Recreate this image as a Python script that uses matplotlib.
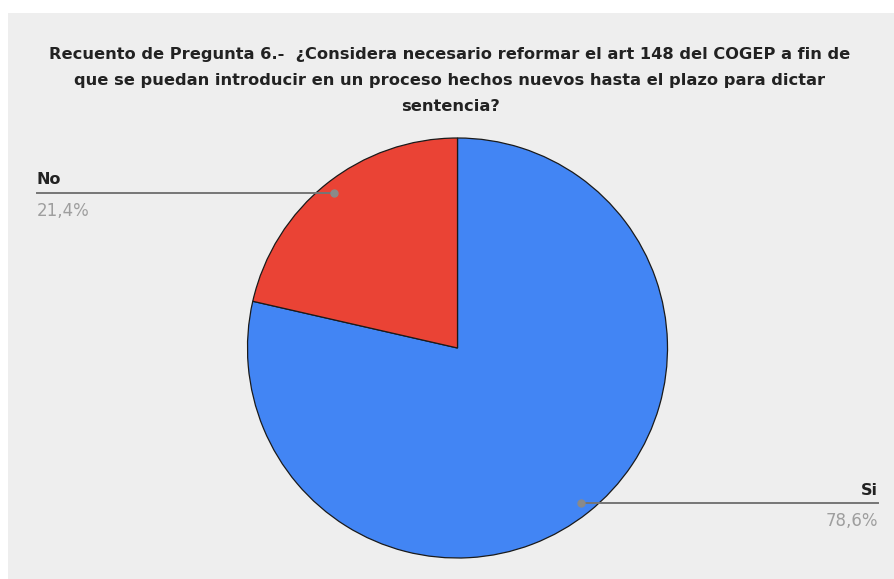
"""Pie chart of answers to question 6 (reform of art. 148 of the COGEP).
"""

import numpy as np
import matplotlib.pyplot as plt
from matplotlib.patches import Rectangle

title = ("Recuento de Pregunta 6.-  ¿Considera necesario reformar el art 148 del COGEP a fin de\n"
         "que se puedan introducir en un proceso hechos nuevos hasta el plazo para dictar\n"
         "sentencia?")
labels = ["Si", "No"]
counts = [11, 3]
colors = ["#4285f4", "#ea4335"]

W, H = 894, 579

fig = plt.figure(figsize=(W/100, H/100), dpi=100)
fig.patch.set_facecolor("white")
fig.patches.append(Rectangle((8/W, 0), 1 - 8/W, 1 - 13/H, transform=fig.transFigure,
                             facecolor="#eeeeee", edgecolor="none", zorder=-10))

fig.text(450/W, 1 - 47/H, title, ha="center", va="top", fontsize=11.7,
         fontweight="bold", color="#222222", linespacing=1.93,
         family="DejaVu Sans")

# pie centred at (457.5, 348) px, radius 210 px
cx, cy, r = 457.5, 348, 210
ax = fig.add_axes([(cx - r)/W, (H - cy - r)/H, 2*r/W, 2*r/H])
ax.pie(counts, colors=colors, startangle=90, counterclock=False, radius=1,
       wedgeprops=dict(edgecolor="#1a1a1a", linewidth=0.9))
ax.set_xlim(-1, 1)
ax.set_ylim(-1, 1)
ax.axis("off")

fracs = np.array(counts) / np.sum(counts)
ends = 90 - 360*np.cumsum(fracs)
mids = ends + 180*fracs

# label edges in figure pixels: Si right-aligned on the right, No left-aligned on the left
label_x = {"Si": 878, "No": 37}

to_data = ax.transData.inverted()
for lab, frac, mid in zip(labels, fracs, mids):
    a = np.deg2rad(mid)
    dx, dy = 0.945*np.cos(a), 0.945*np.sin(a)
    lx = to_data.transform(fig.transFigure.transform((label_x[lab]/W, 0)))[0]
    ax.plot([dx, lx], [dy, dy], color="#757575", lw=1.4, clip_on=False, zorder=3)
    ax.plot([dx], [dy], "o", color="#8a8a8a", ms=5, clip_on=False, zorder=4)
    ha = "left" if lx < 0 else "right"
    pct = f"{100*frac:.1f}%".replace(".", ",")
    ax.annotate(lab, (lx, dy), xytext=(0, 4), textcoords="offset points",
                ha=ha, va="bottom", fontsize=11.5, fontweight="bold",
                color="#222222", annotation_clip=False)
    ax.annotate(pct, (lx, dy), xytext=(0, -6.5), textcoords="offset points",
                ha=ha, va="top", fontsize=12, color="#9e9e9e",
                annotation_clip=False)

fig.savefig("out.png", dpi=100, facecolor=fig.get_facecolor())
